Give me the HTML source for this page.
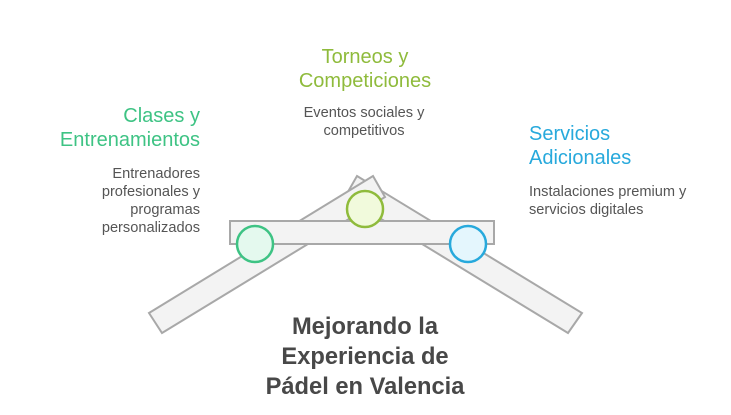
<!DOCTYPE html>
<html><head><meta charset="utf-8"><style>body{margin:0;background:#fff}svg{display:block}</style></head><body>
<svg width="731" height="415" viewBox="0 0 731 415" xmlns="http://www.w3.org/2000/svg" font-family="Liberation Sans, sans-serif">
<polygon points="357,176 582,313 568,333 345,197" fill="#f3f3f3" stroke="#a8a8a8" stroke-width="2"/>
<polygon points="149,313 373,176 385,197 162,333" fill="#f3f3f3" stroke="#a8a8a8" stroke-width="2"/>
<rect x="230" y="221" width="264" height="23" fill="#f3f3f3" stroke="#a8a8a8" stroke-width="2"/>
<circle cx="255" cy="244" r="18" fill="#e4f9ee" stroke="#3ec384" stroke-width="2.5"/>
<circle cx="365" cy="209" r="18" fill="#f1fadc" stroke="#8fbb3c" stroke-width="2.5"/>
<circle cx="468" cy="244" r="18" fill="#e4f6fd" stroke="#27a9dc" stroke-width="2.5"/>
<g font-size="20" fill="#8fbb3c" text-anchor="middle"><text x="365" y="63">Torneos y</text><text x="365" y="87">Competiciones</text></g>
<g font-size="14.6" fill="#555" text-anchor="middle"><text x="364" y="117">Eventos sociales y</text><text x="364" y="135">competitivos</text></g>
<g font-size="20" fill="#3ec384" text-anchor="end"><text x="200" y="122">Clases y</text><text x="200" y="146">Entrenamientos</text></g>
<g font-size="14.6" fill="#555" text-anchor="end"><text x="200" y="178">Entrenadores</text><text x="200" y="196">profesionales y</text><text x="200" y="214">programas</text><text x="200" y="232">personalizados</text></g>
<g font-size="20" fill="#27a9dc"><text x="529" y="140">Servicios</text><text x="529" y="164">Adicionales</text></g>
<g font-size="14.6" fill="#555"><text x="529" y="196">Instalaciones premium y</text><text x="529" y="214">servicios digitales</text></g>
<g font-size="23.7" font-weight="bold" fill="#484848" text-anchor="middle"><text x="365" y="334">Mejorando la</text><text x="365" y="364">Experiencia de</text><text x="365" y="394">Pádel en Valencia</text></g>
</svg>
</body></html>
